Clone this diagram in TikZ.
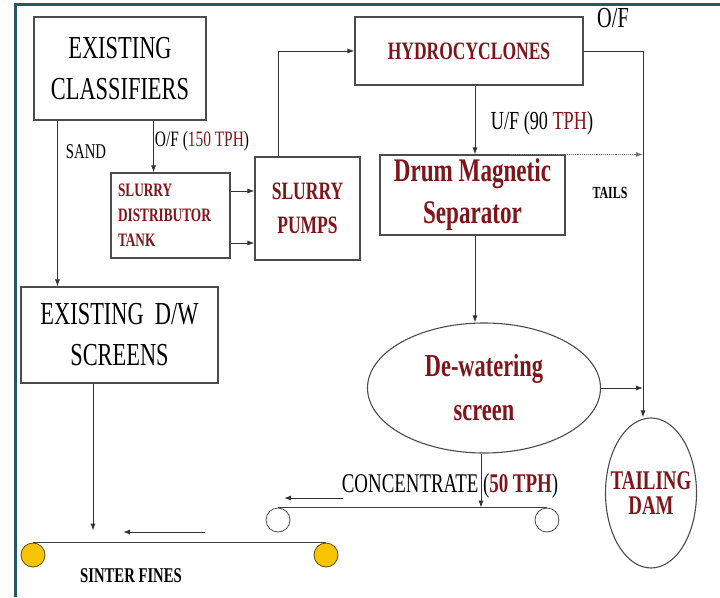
\documentclass[tikz,border=0pt]{standalone}
\usepackage{fontspec}
\setmainfont{Liberation Serif}[FakeStretch=0.7]
\usepackage{tikz}
\usetikzlibrary{shapes,arrows,arrows.meta,positioning,calc,fit}
\usepackage{xcolor}
\definecolor{oxred}{RGB}{128,20,24}
\definecolor{framec}{RGB}{36,86,108}
\definecolor{rollerc}{RGB}{246,196,0}

\begin{document}
\begin{tikzpicture}[x=1pt,y=-1pt,>={Latex[length=7pt,width=5pt]},
    unit/.style={draw=black!70, line width=1.1pt, inner sep=0pt, align=center},
    flow/.style={->, draw=black!80, line width=0.9pt},
    roller/.style={circle, draw=black!70, line width=0.8pt, minimum size=24pt, inner sep=0pt},
    belt/.style={draw=black!75, line width=1.1pt}]
    \useasboundingbox (0,0) rectangle (720,597);

    % Frame
    \draw[framec, line width=3pt] (720,4.5) -- (15,4.5) -- (15,597);

    % Units
    \node[unit, minimum width=172pt, minimum height=103pt, font=\fontsize{32}{41}\selectfont] (cls) at (120,68.5) {EXISTING\\CLASSIFIERS};
    \node[unit, minimum width=197pt, minimum height=96pt, font=\fontsize{32}{41}\selectfont] (dws) at (119.5,335) {EXISTING~~D/W\\SCREENS};
    \node[unit, minimum width=119pt, minimum height=85pt, text width=105pt, align=left, text=oxred, font=\bfseries\fontsize{19}{25}\selectfont] (sdt) at (170.5,215.5) {SLURRY\\DISTRIBUTOR\\TANK};
    \node[unit, minimum width=105pt, minimum height=103pt, text=oxred, font=\bfseries\fontsize{25}{34}\selectfont] (pmp) at (307.5,208.5) {SLURRY\\PUMPS};
    \node[unit, minimum width=228pt, minimum height=68pt, text=oxred, font=\bfseries\fontsize{25}{30}\selectfont] (hyd) at (469,51) {HYDROCYCLONES};
    \node[unit, minimum width=185pt, minimum height=80pt, text=oxred, font=\bfseries\fontsize{33}{42}\selectfont] (drum) at (472.5,195) {Drum Magnetic\\Separator};
    \node[unit, ellipse, minimum width=233pt, minimum height=130pt, text=oxred, font=\bfseries\fontsize{32}{44}\selectfont] (dew) at (484,388) {De-watering\\screen};
    \node[unit, ellipse, minimum width=91pt, minimum height=150pt, inner xsep=-20pt, text=oxred, font=\bfseries\fontsize{27}{25}\selectfont] (dam) at (651,493) {TAILING\\DAM};

    % Conveyors
    \node[roller] (c1) at (278,520) {};
    \node[roller] (c2) at (547,520) {};
    \node[roller, fill=rollerc, draw=black!60!rollerc] (r1) at (33,555) {};
    \node[roller, fill=rollerc, draw=black!60!rollerc] (r2) at (326,555) {};
    \draw[belt] (c1.north) -- (c2.north);
    \draw[belt] (r1.north) -- (r2.north);

    % Labels
    \node[font=\fontsize{21}{21}\selectfont] (sand) at (86,152) {SAND};
    \node[font=\fontsize{22}{22}\selectfont] (ofa) at (202,141) {O/F (\textcolor{oxred}{150 TPH})};
    \node[font=\fontsize{29}{29}\selectfont] (ofb) at (613,18) {O/F};
    \node[font=\fontsize{26}{26}\selectfont] (uf) at (542,123) {U/F (90 \textcolor{oxred}{TPH})};
    \node[font=\bfseries\fontsize{17}{17}\selectfont] (tails) at (610,193) {TAILS};
    \node[font=\fontsize{27}{27}\selectfont] (conc) at (450,486) {CONCENTRATE (\textcolor{oxred}{\bfseries 50 TPH})};
    \node[font=\bfseries\fontsize{21}{21}\selectfont] (sinter) at (131,576) {SINTER FINES};

    % Flows
    \draw[flow] ([xshift=24pt]cls.south west) -- ([xshift=24pt]cls.south west |- dws.north);
    \draw[flow] ([xshift=-53pt]cls.south east) -- ([xshift=-53pt]cls.south east |- sdt.north);
    \draw[flow] ([yshift=24.5pt]sdt.east) -- ([yshift=24.5pt]sdt.east -| pmp.west);
    \draw[flow] ([yshift=-27.5pt]sdt.east) -- ([yshift=-27.5pt]sdt.east -| pmp.west);
    \draw[flow] ([xshift=-29.5pt]pmp.north) |- (hyd.west);
    \draw[flow] (hyd.east) -| coordinate[pos=0.5] (ofc) ([xshift=-8pt]dam.north);
    \draw[flow] ([xshift=6pt]hyd.south) -- ([xshift=6pt]hyd.south |- drum.north);
    \draw[flow, densely dotted, draw=black!55] ([xshift=37.5pt]drum.north) -- (ofc |- drum.north);
    \draw[flow] ([xshift=2.5pt]drum.south) -- ([xshift=2.5pt]drum.south |- dew.north);
    \draw[flow] (dew.east) -- (dew.east -| ofc);
    \draw[flow] ([xshift=-3pt]dew.south) -- ([xshift=-3pt]dew.south |- c1.north);
    \draw[flow, shorten >=12pt] ([xshift=-26.5pt]dws.south) -- ([xshift=-26.5pt]dws.south |- r1.north);

    % Belt direction
    \coordinate (a1) at (343,498);
    \coordinate (a2) at (284,498);
    \coordinate (b1) at (205,532);
    \coordinate (b2) at (123,532);
    \draw[flow] (a1) -- (a2);
    \draw[flow] (b1) -- (b2);
\end{tikzpicture}
\end{document}
